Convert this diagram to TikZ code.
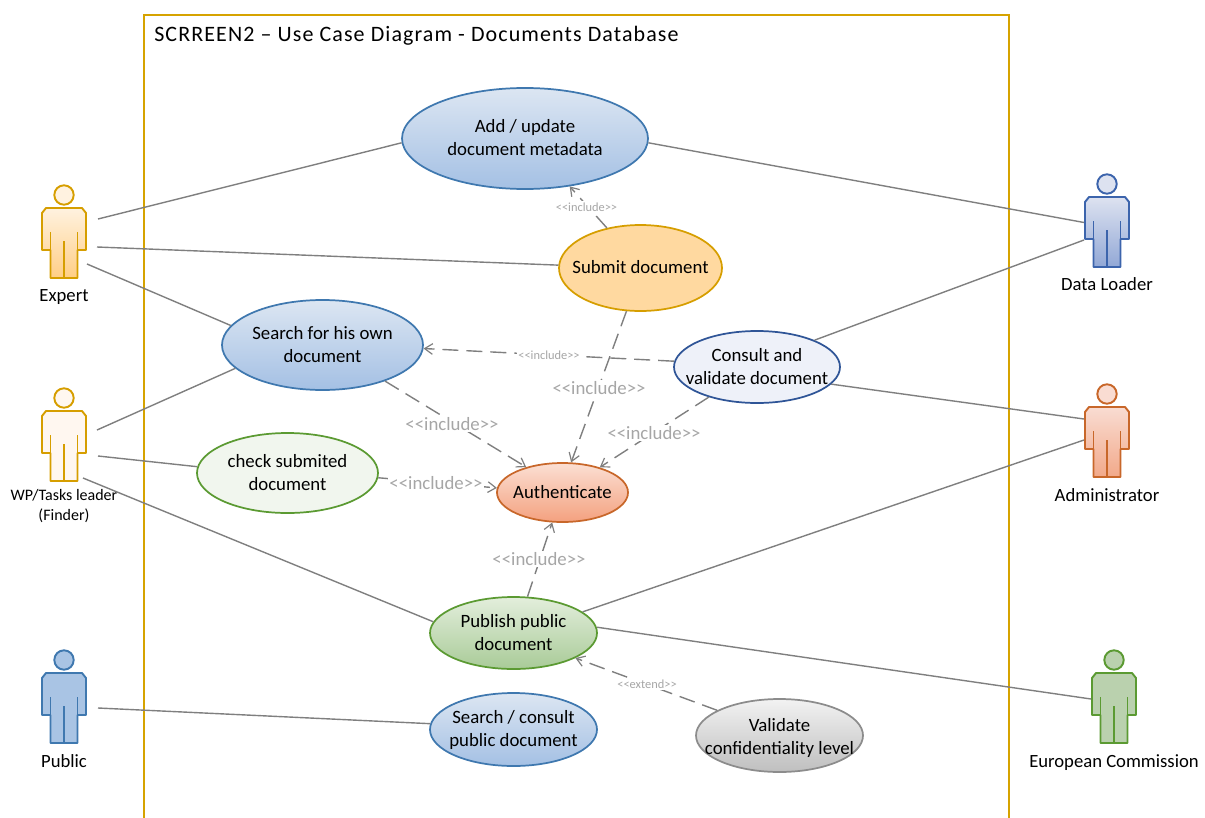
\documentclass[tikz,border=0pt]{standalone}
\usepackage{fontspec}
\setmainfont{Carlito}
\usetikzlibrary{shapes.geometric,arrows.meta}
\newcommand{\hexc}[1]{\definecolor{#1}{HTML}{#1}}
\hexc{FFF2E0}\hexc{FFCE85}\hexc{FFF7F0}\hexc{A9C4E4}\hexc{DDE2F0}\hexc{92A8D6}
\hexc{F9DCD2}\hexc{F2A98A}\hexc{BAD1AE}\hexc{DCE6F2}\hexc{A4C0E4}\hexc{FFD9A0}
\hexc{EEF1F9}\hexc{F1F6EE}\hexc{E3EEDC}\hexc{A9CB98}\hexc{F2F2F2}\hexc{BFBFBF}
\hexc{FBDFD3}\hexc{F4A17F}
\definecolor{frameC}{HTML}{D6A300}
\definecolor{lineC}{HTML}{7F7F7F}
\definecolor{incC}{HTML}{A6A6A6}
\definecolor{blueL}{HTML}{3F78AF}
\definecolor{orgL}{HTML}{D69E00}
\definecolor{redL}{HTML}{C8672A}
\definecolor{grnL}{HTML}{5B9A32}
\definecolor{navL}{HTML}{2F5597}
\definecolor{dlL}{HTML}{3C64AC}
\definecolor{gryL}{HTML}{8C8C8C}
\newcommand{\uct}[2][-0.75pt]{\raisebox{#1}[\height][\depth]{\makebox[0pt]{\begin{tabular}{@{}c@{}}#2\end{tabular}}}}
\tikzset{
  usecase/.style={ellipse,inner sep=0pt,line width=1.3pt,font=\fontsize{14.1}{17.25}\selectfont,text=black},
  assoc/.style={draw=lineC,line width=1.05pt},
  dep/.style={draw=lineC,line width=1.05pt,dash pattern=on 12pt off 6pt,-{Straight Barb[length=6pt,width=8pt,line width=0.9pt]}},
  biglab/.style={font=\fontsize{14.1}{16}\selectfont,text=incC,fill=white,inner sep=1pt},
  smalllab/.style={font=\fontsize{9.3}{11}\selectfont,text=incC,fill=white,inner sep=1pt},
  actorlab/.style={font=\fontsize{14}{17}\selectfont,text=black,anchor=base,align=center},
}
% #1 centre x, #2 head centre y, #3 top colour, #4 bottom colour, #5 line colour
\newcommand{\actorfig}[5]{%
  \begin{scope}[shift={(#1,#2)},line width=1.45pt,draw=#5,line join=round]
    \draw[fill=#3] (0,0) circle[x radius=9.7,y radius=9.7];
    \path[draw=#5,top color=#3,bottom color=#4]
      (-22,18) -- (-18,13) -- (18,13) -- (22,18) -- (22,55) -- (13.5,55)
      -- (13.5,83) -- (-13.5,83) -- (-13.5,55) -- (-22,55) -- cycle;
    \draw (-13.5,37) -- (-13.5,55);
    \draw (13.5,37) -- (13.5,55);
    \draw (0,46) -- (0,83);
  \end{scope}}
\begin{document}
\begin{tikzpicture}[x=0.75pt,y=-0.75pt]
\useasboundingbox (0,0) rectangle (1205,817);
% system frame
\draw[frameC,line width=1.4pt] (144,830) -- (144,15) -- (1009,15) -- (1009,830);
\node[anchor=base west,inner sep=0pt,font=\fontsize{16.5}{18}\selectfont\addfontfeature{LetterSpace=5}] (title) at (154,41) {SCRREEN2 – Use Case Diagram - Documents Database};
% actors
\actorfig{64}{195}{FFF2E0}{FFCE85}{orgL}
\actorfig{64}{398}{FFF7F0}{FFF7F0}{orgL}
\actorfig{64}{660}{A9C4E4}{A9C4E4}{blueL}
\actorfig{1107}{184}{DDE2F0}{92A8D6}{dlL}
\actorfig{1107}{394}{F9DCD2}{F2A98A}{redL}
\actorfig{1114}{660}{BAD1AE}{BAD1AE}{grnL}
\node[actorlab] (expert) at (64,301) {Expert};
\node[actorlab,font=\fontsize{12}{15}\selectfont] (wp) at (64,520) {WP/Tasks leader\\(Finder)};
\node[actorlab] (public) at (64,767) {Public};
\node[actorlab] (loader) at (1107,290) {Data Loader};
\node[actorlab] (admin) at (1107,501) {Administrator};
\node[actorlab] (ec) at (1114,767) {European Commission};
% connector free ends at the actors
\coordinate (eA) at (98,219);
\coordinate (eB) at (97,247);
\coordinate (eC) at (87,264);
\coordinate (wA) at (97,430);
\coordinate (wB) at (98,456);
\coordinate (wC) at (83,478);
\coordinate (pA) at (98,708);
\coordinate (dA) at (1084,222.5);
\coordinate (dB) at (1084,240);
\coordinate (aA) at (1084,419);
\coordinate (aB) at (1084,440);
\coordinate (cA) at (1091,699);
% use cases
\node[usecase,draw=blueL,top color=DCE6F2,bottom color=A4C0E4,minimum width=184.5pt,minimum height=75.75pt] (add) at (525,138.5) {\uct{Add / update\\document metadata}};
\node[usecase,draw=orgL,fill=FFD9A0,minimum width=122.25pt,minimum height=64.5pt] (submit) at (640.5,268) {\uct{Submit document}};
\node[usecase,draw=blueL,top color=DCE6F2,bottom color=A4C0E4,minimum width=150.75pt,minimum height=67.5pt] (search) at (322.5,345) {\uct{Search for his own\\document}};
\node[usecase,draw=navL,fill=EEF1F9,minimum width=124.5pt,minimum height=54pt] (consult) at (757,367) {\uct{Consult and\\validate document}};
\node[usecase,draw=grnL,fill=F1F6EE,minimum width=135.75pt,minimum height=60pt] (check) at (287.5,473) {\uct{check submited\\document}};
\node[usecase,draw=redL,top color=FBDFD3,bottom color=F4A17F,minimum width=98.25pt,minimum height=44.25pt] (auth) at (562.5,492.5) {\uct{Authenticate}};
\node[usecase,draw=grnL,top color=E3EEDC,bottom color=A9CB98,minimum width=125.25pt,minimum height=54pt] (publish) at (513.5,633) {\uct{Publish public\\document}};
\node[usecase,draw=blueL,top color=DCE6F2,bottom color=A4C0E4,minimum width=125.25pt,minimum height=54.75pt] (browse) at (513.5,729.5) {\uct{Search / consult\\public document}};
\node[usecase,draw=gryL,top color=F2F2F2,bottom color=BFBFBF,minimum width=125.25pt,minimum height=54.75pt] (validate) at (779.5,735.5) {\uct[-2.25pt]{Validate\\confidentiality level}};
% associations
\draw[assoc] (eA) -- (add.182);
\draw[assoc] (eB) -- (submit.178);
\draw[assoc] (eC) -- (search.168.4);
\draw[assoc] (wA) -- (search.195.6);
\draw[assoc] (wB) -- (check.176.1);
\draw[assoc] (wC) -- (publish.172.3);
\draw[assoc] (pA) -- (browse.176.9);
\draw[assoc] (add.-2.1) -- (dA);
\draw[assoc] (consult.25) -- (dB);
\draw[assoc] (consult.-13.9) -- (aA);
\draw[assoc] (publish.17.8) -- (aB);
\draw[assoc] (publish.4.2) -- (cA);
% dependencies
\draw[dep] (submit.130.7) -- (add.-47.8);
\draw[dep] (submit.-108.2) -- (auth.74.7);
\draw[dep] (consult.176.5) -- (search.-2.3);
\draw[dep] (search.-30.9) -- (auth.145.4);
\draw[dep] (consult.212.6) -- (auth.34.6);
\draw[dep] (check.-3.8) -- (auth.176);
\draw[dep] (publish.69.4) -- (auth.251.6);
\draw[dep] (validate.158.3) -- (publish.-22.1);
\node[smalllab] (l1) at (586.5,207) {<{}<include>{}>};
\node[biglab] (l2) at (599,388) {<{}<include>{}>};
\node[smalllab] (l3) at (549,355) {<{}<include>{}>};
\node[biglab] (l4) at (452,424) {<{}<include>{}>};
\node[biglab] (l5) at (654,433) {<{}<include>{}>};
\node[biglab] (l6) at (436,483) {<{}<include>{}>};
\node[biglab] (l7) at (539,559) {<{}<include>{}>};
\node[smalllab] (l8) at (647,684) {<{}<extend>{}>};
\end{tikzpicture}
\end{document}
